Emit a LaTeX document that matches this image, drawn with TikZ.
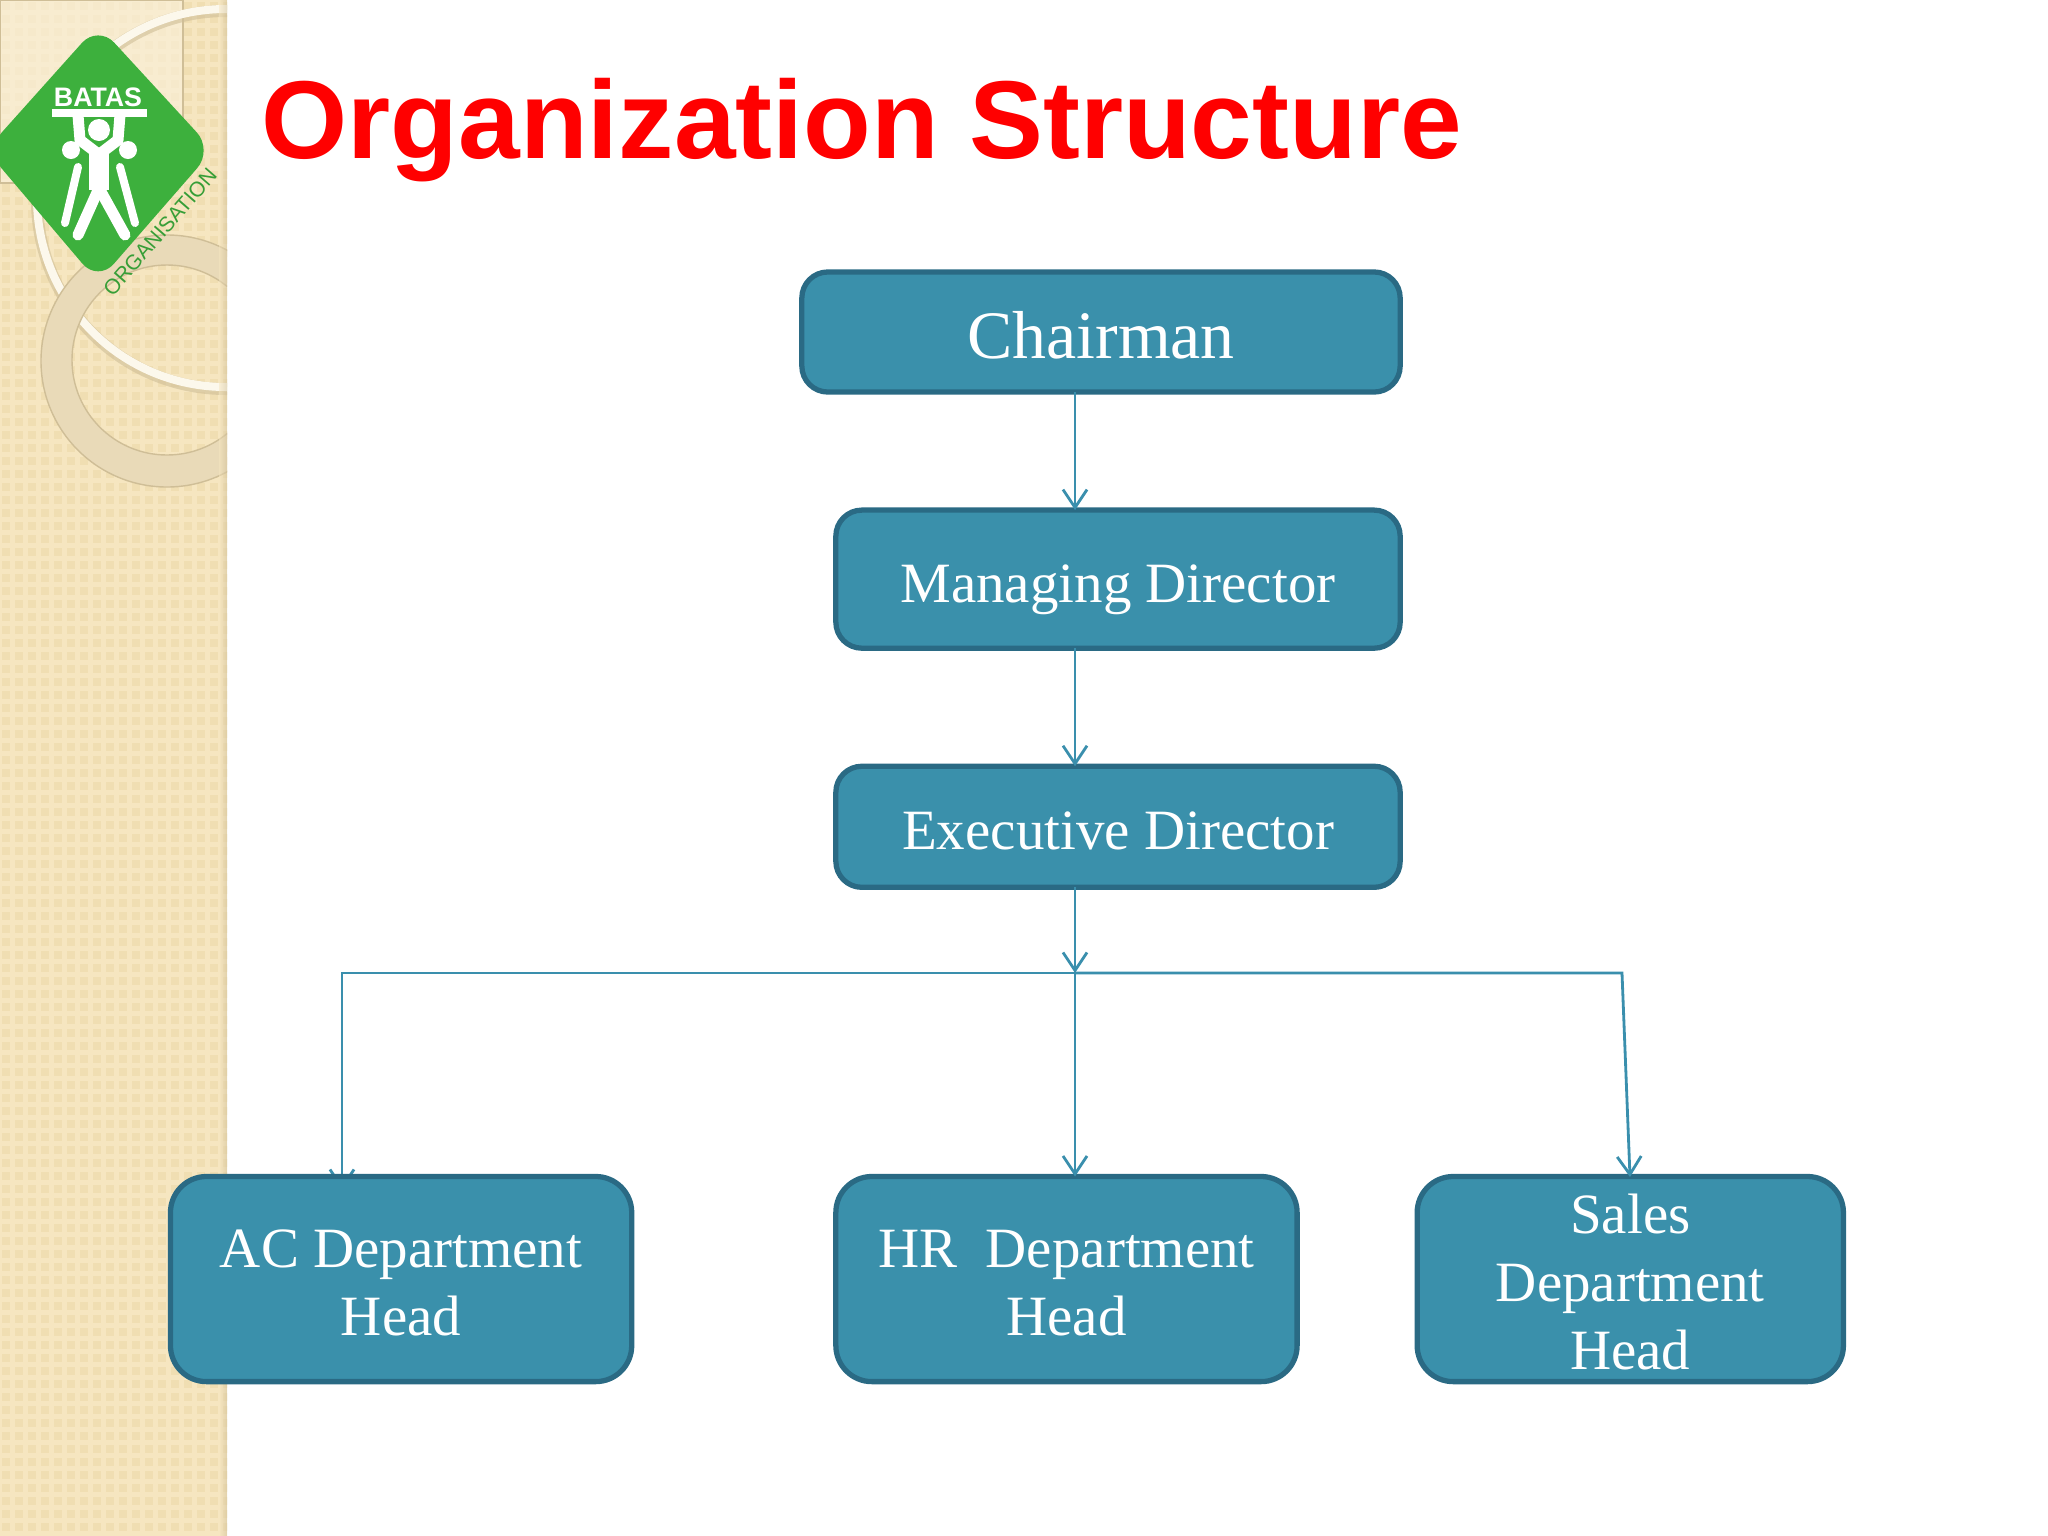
\documentclass[tikz,border=0pt]{standalone}
\usepackage{fontspec}
\setmainfont{Liberation Serif}
\newfontfamily\logofont{Liberation Sans}
\usetikzlibrary{arrows.meta,positioning}
\definecolor{azulbox}{HTML}{3A90AB}
\definecolor{azulborda}{HTML}{2A6A84}
\definecolor{azulseta}{HTML}{3A8FAD}
\definecolor{creme}{HTML}{F6E6C0}
\definecolor{cremeponto}{HTML}{F0DEB2}
\definecolor{anel}{HTML}{E9DAB8}
\definecolor{anelborda}{HTML}{CFBE97}
\definecolor{verdelogo}{HTML}{3DB03D}
\pgfdeclarelayer{back}
\pgfsetlayers{back,main}

\begin{document}
\begin{tikzpicture}[
  x=0.01cm,y=-0.01cm,
  boxnode/.style={draw=azulborda,fill=azulbox,line width=1.5pt,rounded corners=2.6mm,outer sep=0pt,
    inner sep=0pt,align=center,text=white,font=\fontsize{16.2}{19.3}\selectfont},
  oneline/.style={text height=13pt,text depth=0pt},
  deptbox/.style={boxnode,rounded corners=3.6mm,minimum height=2.05cm},
  arrow/.style={-{Straight Barb[length=1.8mm,width=2.4mm]},draw=azulseta,line width=0.8pt},
  figure/.style={draw=white,line width=1.1mm,line cap=round,line join=round}
]
  \useasboundingbox (0,0) rectangle (2048,1536);
  % sidebar
  \begin{scope}
    \clip (0,0) rectangle (227,1536);
    \fill[creme] (0,0) rectangle (227,1536);
    \foreach \i in {0,...,17}{
      \foreach \j in {0,...,118}{
        \fill[cremeponto] (\i*13+2,\j*13+2) rectangle ++(8,8);
      }
    }
    \draw[draw=anelborda,fill=creme!55!white,fill opacity=0.6] (0,0) rectangle (183,183);
    \draw[draw=anelborda,line width=1.2mm,opacity=0.6] (226,200) circle[radius=189];
    \draw[draw=white!70!creme,line width=0.8mm] (226,198) circle[radius=189];
    \draw[draw=anelborda,fill=anel,even odd rule] (167,361) circle[radius=126] (167,360) circle[radius=95];
    \shade[left color=creme,right color=anelborda,opacity=0.5] (219,0) rectangle (227,1536);
  \end{scope}
  % logo
  \fill[verdelogo,rounded corners=2.4mm] (98,25)--(213,150)--(98,282)--(-14,150)--cycle;
  \node[font=\logofont\bfseries\fontsize{7.6}{8}\selectfont,text=white] (logotext) at (98,97) {BATAS};
  \fill[white] (52,109) rectangle (147,117);
  \draw[figure] (78,115)--(80,140)--(97,153)--(101,153)--(118,140)--(120,115);
  \draw[figure,line width=1.9mm,line cap=butt] (99,150)--(99,190);
  \draw[figure] (99,188)--(78,235);
  \draw[figure] (99,188)--(125,235);
  \draw[figure,line width=0.8mm] (78,167)--(65,223);
  \draw[figure,line width=0.8mm] (120,167)--(135,223);
  \fill[white] (99,130) circle[radius=11] (71,150) circle[radius=9] (128,150) circle[radius=9];
  \node[rotate=49,font=\logofont\fontsize{6}{6}\selectfont,text=verdelogo!90!black] (logoname) at (160,232) {ORGANISATION};
  % title
  \node[anchor=base west,inner sep=0pt,text=red,font=\logofont\bfseries\fontsize{31.5}{36}\selectfont] (title) at (261,158) {Organization Structure};
  % boxes
  \node[boxnode,oneline,minimum width=5.98cm,minimum height=1.2cm,text height=15pt,font=\fontsize{19.3}{23}\selectfont] (chair) at (1101,332) {Chairman};
  \node[boxnode,oneline,minimum width=5.64cm,minimum height=1.38cm,below=1.18cm of chair.south east,anchor=north east] (mgr) {Managing Director};
  \node[boxnode,oneline,minimum width=5.64cm,minimum height=1.21cm,below=1.18cm of mgr.south west,anchor=north west] (exec) {Executive Director};
  \node[deptbox,text height=32.4pt,minimum width=4.61cm,below=2.89cm of exec.south west,anchor=north west] (hr) {HR~ Department\\Head};
  \node[deptbox,text height=32.4pt,minimum width=4.61cm,left=2.04cm of hr] (ac) {AC Department\\Head};
  \node[deptbox,text height=51.7pt,minimum width=4.26cm,right=1.2cm of hr] (sales) {Sales\\Department\\Head};
  % connectors
  \coordinate (trunk) at (1075,973);
  \coordinate (left) at (342,973);
  \coordinate (right) at (1622,973);
  \coordinate (salestop) at (1630,1177);
  \coordinate (actip) at (342,1190);
  \draw[arrow] (trunk|-chair.south)--(trunk|-mgr.north);
  \draw[arrow] (trunk|-mgr.south)--(trunk|-exec.north);
  \draw[arrow] (trunk|-exec.south)--(trunk);
  \draw[arrow] (trunk)--(trunk|-hr.north);
  \draw[arrow] (trunk)--(right)--(salestop);
  \begin{pgfonlayer}{back}
    \draw[arrow] (trunk)--(left)--(actip);
  \end{pgfonlayer}
\end{tikzpicture}
\end{document}
